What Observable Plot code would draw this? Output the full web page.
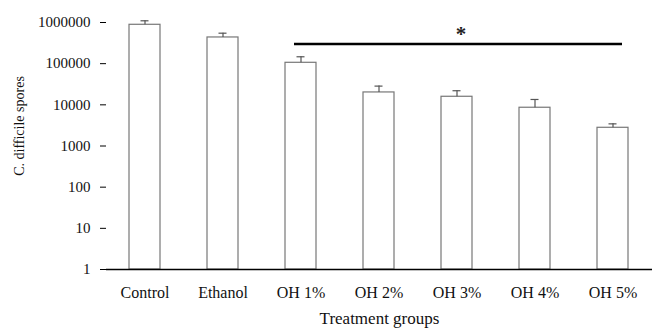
<!DOCTYPE html>
<html>
<head>
<meta charset="utf-8">
<script src="https://cdn.jsdelivr.net/npm/d3@7"></script>
<script src="https://cdn.jsdelivr.net/npm/@observablehq/plot@0.6"></script>
<style>
  html, body { margin: 0; padding: 0; background: #fff; }
  svg { display: block; }
</style>
</head>
<body>
<div id="chart"></div>
<script>
const groups = ["Control", "Ethanol", "OH 1%", "OH 2%", "OH 3%", "OH 4%", "OH 5%"];
const means = [880000, 433000, 105000, 20000, 15700, 8500, 2770];
const upper = [1100000, 550000, 147000, 28500, 22000, 13500, 3450];
const yTicks = [1, 10, 100, 1000, 10000, 100000, 1000000];
const sigFrom = "OH 1%";
const sigTo = "OH 5%";
const sigLevel = 300000;
const sigMark = "*";
const xLabel = "Treatment groups";
const yLabel = "C. difficile spores";

const data = groups.map((g, i) => ({group: g, mean: means[i], up: upper[i]}));
const font = "'Liberation Serif', 'Times New Roman', serif";

const chart = Plot.plot({
  width: 657,
  height: 329,
  marginLeft: 106,
  marginRight: 5,
  marginTop: 22,
  marginBottom: 60,
  style: {fontFamily: font, fontSize: "15px", color: "#111", background: "#fff"},
  x: {domain: groups, paddingInner: 0.6, paddingOuter: 0.3, label: null},
  y: {type: "log", domain: [1, 1000000], label: null},
  marks: [
    Plot.axisX({tickSize: 0, tickPadding: 17, fontSize: 16, label: null, fill: "#111"}),
    Plot.axisY({ticks: yTicks, tickFormat: d => String(d), tickSize: 6, tickPadding: 10, fontSize: 15, label: null, fill: "#111", stroke: "#000"}),
    Plot.barY(data, {x: "group", y1: 1, y2: "mean", fill: "#fff", stroke: "#777", strokeWidth: 1.2}),
    Plot.ruleX(data, {x: "group", y1: "mean", y2: "up", stroke: "#555", strokeWidth: 1.2}),
    Plot.tickY(data, {x: "group", y: "up", stroke: "#555", strokeWidth: 1.2, insetLeft: 11.5, insetRight: 11.5}),
    Plot.ruleY([1], {stroke: "#000", strokeWidth: 1.3}),
    Plot.ruleX([0], {frameAnchor: "left", stroke: "#000", strokeWidth: 1.3}),
    Plot.ruleY([sigLevel], {y: d => d, x1: [sigFrom], x2: [sigTo], stroke: "#000", strokeWidth: 2.4, insetLeft: 9, insetRight: 6}),
    Plot.text([sigMark], {x: ["OH 3%"], y: [sigLevel], text: d => d, dx: 4, dy: -10, fontSize: 21, fontWeight: "bold", fill: "#222"}),
    Plot.text([xLabel], {frameAnchor: "bottom", lineAnchor: "middle", dy: 49.5, fontSize: 17, text: d => d, fill: "#111"}),
    Plot.text([yLabel], {frameAnchor: "left", textAnchor: "middle", lineAnchor: "middle", dx: -87, dy: -20, rotate: -90, fontSize: 14, text: d => d, fill: "#111"})
  ]
});
document.getElementById("chart").appendChild(chart);
</script>
</body>
</html>
